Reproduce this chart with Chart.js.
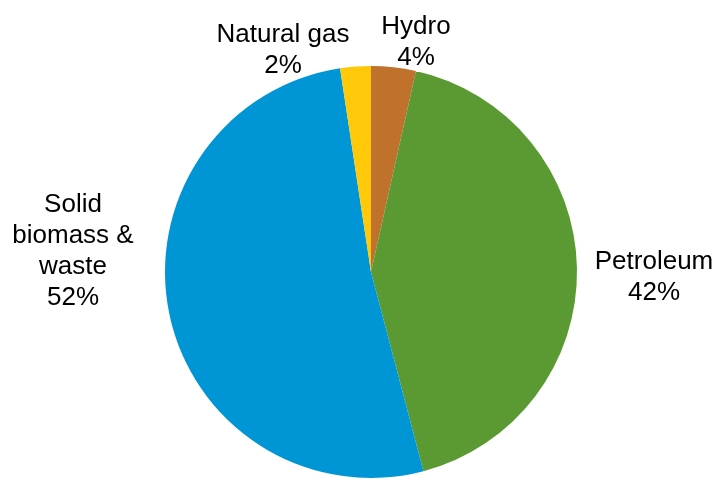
<!DOCTYPE html>
<html>
<head>
<meta charset="utf-8">
<script src="https://cdn.jsdelivr.net/npm/chart.js@4"></script>
<style>
  html, body { margin: 0; padding: 0; background: #fff; }
  #wrap { width: 717px; height: 481px; }
</style>
</head>
<body>
<div id="wrap"><canvas id="c"></canvas></div>
<script>
// Dados
const labels = ['Hydro', 'Petroleum', 'Solid biomass & waste', 'Natural gas'];
const shares = [3.5, 42.4, 51.7, 2.4];
const pctText = ['4%', '42%', '52%', '2%'];
const labelLines = [['Hydro'], ['Petroleum'], ['Solid', 'biomass &', 'waste'], ['Natural gas']];

// Estilo
const colors = ['#C0722D', '#5B9A32', '#0096D6', '#FFC90A'];
// posição do bloco de texto em relação ao centro da pizza
const labelOffsets = [[45, -230], [283, 5], [-298, -21], [-88, -222]];

const pieLabels = {
  id: 'pieLabels',
  afterDraw(chart) {
    const ctx = chart.ctx;
    const arc = chart.getDatasetMeta(0).data[0];
    const cx = arc.x, cy = arc.y;
    const lh = 31;
    ctx.save();
    ctx.font = '26px "Liberation Sans", Arial, sans-serif';
    ctx.fillStyle = '#000';
    ctx.textAlign = 'center';
    ctx.textBaseline = 'middle';
    labels.forEach((l, i) => {
      const lines = labelLines[i].concat([pctText[i]]);
      const bx = cx + labelOffsets[i][0];
      const by = cy + labelOffsets[i][1];
      const top = by - (lines.length - 1) * lh / 2;
      lines.forEach((t, j) => ctx.fillText(t, bx, top + j * lh));
    });
    ctx.restore();
  }
};

new Chart(document.getElementById('c'), {
  type: 'pie',
  data: {
    labels: labels,
    datasets: [{
      data: shares,
      backgroundColor: colors,
      borderWidth: 0,
      hoverOffset: 0,
      offset: 0
    }]
  },
  options: {
    responsive: true,
    maintainAspectRatio: false,
    animation: false,
    layout: { padding: { left: 163, right: 138, top: 66, bottom: 3 } },
    plugins: {
      legend: { display: false },
      tooltip: { enabled: false }
    }
  },
  plugins: [pieLabels]
});
</script>
</body>
</html>
